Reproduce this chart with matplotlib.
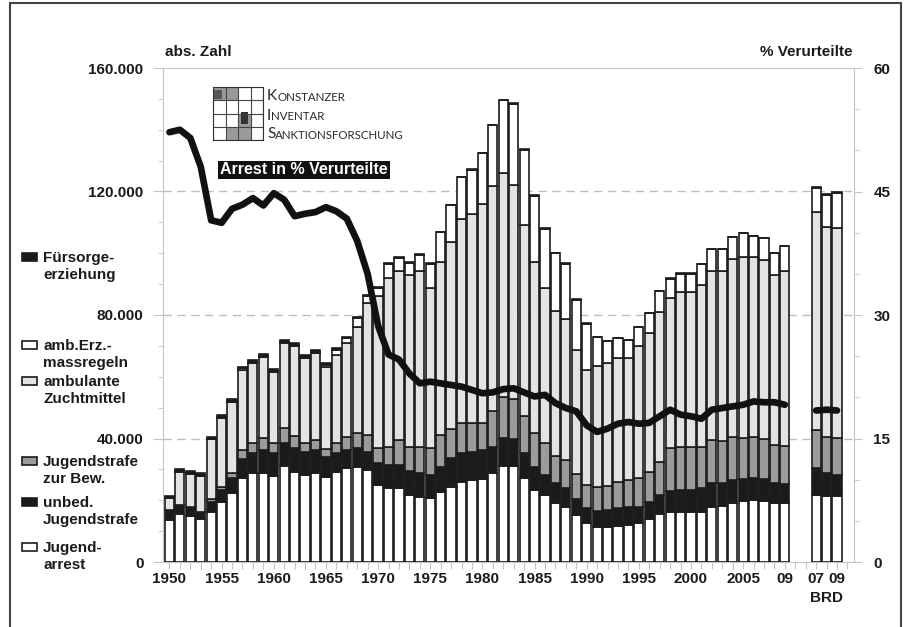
import numpy as np
import matplotlib.pyplot as plt
from matplotlib.patches import Rectangle
from matplotlib.ticker import FixedLocator, FuncFormatter

plt.rcParams['font.family'] = ['Liberation Sans', 'DejaVu Sans']
plt.rcParams['font.weight'] = 'bold'
plt.rcParams['font.size'] = 11

W, H = 906, 627

# --- data (in 1000 persons), 1950-2009 old Länder, 2007-2009 BRD ---
years = np.arange(1950, 2010)
arrest = [13.6, 15.6, 14.9, 13.8, 16.3, 19.5, 22.5, 27.1, 28.7, 28.9,
          27.9, 31.1, 29.3, 28.2, 28.7, 27.6, 29.3, 30.3, 30.7, 29.8,
          24.9, 23.9, 23.9, 21.7, 21.2, 20.6, 22.8, 24.4, 26.0, 26.4,
          26.8, 28.7, 31.1, 31.1, 27.1, 23.3, 21.7, 19.0, 17.7, 15.2,
          12.5, 11.4, 11.4, 11.7, 12.0, 12.5, 13.8, 15.6, 16.3, 16.3,
          16.3, 16.3, 17.9, 18.1, 19.2, 19.9, 20.1, 19.9, 19.0, 19.0]
unbed = [3.2, 2.9, 3.0, 2.5, 3.2, 3.8, 4.6, 6.2, 6.5, 7.4,
         7.3, 7.3, 7.5, 7.5, 7.6, 6.5, 5.9, 6.0, 6.1, 5.9,
         7.1, 7.5, 7.5, 7.9, 7.7, 7.6, 8.1, 9.2, 9.2, 9.3,
         9.5, 8.7, 9.0, 8.6, 8.3, 7.6, 6.5, 6.5, 6.2, 5.1,
         4.9, 5.2, 5.4, 5.7, 5.7, 5.4, 5.7, 6.1, 6.7, 7.0,
         7.0, 7.6, 7.6, 7.4, 7.2, 6.9, 7.0, 6.9, 6.5, 6.3]
bew = [0.0, 0.0, 0.0, 0.0, 0.9, 1.1, 1.6, 3.0, 3.5, 3.8,
       3.5, 4.9, 4.0, 2.7, 3.2, 2.4, 3.5, 4.3, 4.9, 5.4,
       4.8, 6.0, 8.1, 7.8, 8.5, 8.6, 10.2, 9.4, 9.7, 9.2,
       8.6, 11.6, 13.5, 13.0, 11.9, 10.8, 10.2, 8.8, 9.1, 8.2,
       7.5, 7.8, 7.8, 8.6, 8.7, 9.2, 9.8, 10.8, 13.8, 13.9,
       14.1, 13.5, 14.0, 13.8, 14.0, 13.3, 13.5, 12.9, 12.4, 12.3]
zucht = [3.8, 10.6, 10.7, 11.7, 19.3, 22.3, 23.2, 25.9, 25.7, 26.2,
         22.8, 27.5, 29.0, 27.6, 28.1, 26.8, 28.4, 30.2, 34.5, 42.7,
         49.2, 54.5, 54.9, 55.6, 56.7, 51.9, 56.2, 60.8, 66.1, 67.9,
         71.1, 72.8, 72.3, 69.4, 61.9, 55.6, 50.3, 47.1, 45.6, 40.2,
         37.3, 39.1, 39.8, 40.2, 39.6, 42.9, 45.0, 48.6, 48.6, 50.4,
         50.2, 52.3, 54.6, 55.1, 57.7, 58.8, 58.3, 58.1, 55.1, 56.8]
erz = [0.3, 0.3, 0.3, 0.3, 0.3, 0.3, 0.3, 0.5, 0.4, 0.5,
       0.3, 0.5, 0.4, 0.5, 0.5, 0.5, 1.5, 1.7, 2.8, 2.3,
       2.8, 4.6, 4.1, 4.0, 5.3, 7.8, 9.5, 11.7, 13.6, 14.2,
       16.4, 19.6, 23.6, 26.3, 24.3, 21.4, 19.2, 18.6, 18.0, 16.2,
       15.0, 9.4, 7.2, 6.2, 5.8, 6.1, 6.4, 6.7, 6.4, 5.8,
       5.8, 6.8, 7.2, 6.9, 7.2, 7.7, 6.6, 7.0, 7.1, 7.9]
fuer = [0.6] * 17 + [0.5, 0.5, 0.4, 0.4, 0.3, 0.3, 0.3, 0.3, 0.3] \
       + [0.2] * 14 + [0.1] * 20

brd_years = [2007, 2008, 2009]
arrest_brd = [21.7, 21.4, 21.4]
unbed_brd = [8.6, 7.3, 6.8]
bew_brd = [12.3, 11.9, 11.9]
zucht_brd = [70.9, 67.8, 68.0]
erz_brd = [7.7, 10.6, 11.5]
fuer_brd = [0.1, 0.1, 0.1]

# Arrest in % Verurteilte (right axis)
pct = [52.2, 52.5, 51.5, 48.0, 41.5, 41.2, 42.9, 43.4, 44.2, 43.3,
       44.8, 44.0, 42.0, 42.3, 42.5, 43.1, 42.6, 41.7, 39.0, 35.0,
       28.7, 25.2, 24.6, 22.9, 21.7, 21.9, 21.7, 21.5, 21.3, 20.9,
       20.5, 20.6, 21.0, 21.1, 20.6, 20.1, 20.3, 19.3, 18.7, 18.3,
       16.6, 15.8, 16.2, 16.8, 17.0, 16.8, 16.9, 17.7, 18.5, 17.9,
       17.7, 17.4, 18.5, 18.7, 18.9, 19.1, 19.5, 19.4, 19.4, 19.1]
pct_brd = [18.4, 18.5, 18.4]

legend_labels = ['Fürsorge-\nerziehung', 'amb.Erz.-\nmassregeln',
                 'ambulante\nZuchtmittel', 'Jugendstrafe\nzur Bew.',
                 'unbed.\nJugendstrafe', 'Jugend-\narrest']

BLACK = '#1b1b1b'
colors = ['white', BLACK, '#9b9b9b', '#e3e3e3', 'white', BLACK]
AXC = '#c4c4c4'


def fx(x):
    return x / W


def fy(y):
    return 1 - y / H


fig = plt.figure(figsize=(W / 100, H / 100), dpi=100)
ax = fig.add_axes([fx(163), fy(562), (854 - 163) / W, (562 - 68) / H])

brd_pos = years[-1] + 3 + np.arange(len(brd_years))
layers = [arrest, unbed, bew, zucht, erz, fuer]
layers_brd = [arrest_brd, unbed_brd, bew_brd, zucht_brd, erz_brd, fuer_brd]

bottom = np.zeros(len(years))
bottom_b = np.zeros(len(brd_years))
for vals, vals_b, c in zip(layers, layers_brd, colors):
    ax.bar(years, vals, bottom=bottom, width=0.88, color=c,
           edgecolor=BLACK, linewidth=1.2, zorder=3)
    ax.bar(brd_pos, vals_b, bottom=bottom_b, width=0.88, color=c,
           edgecolor=BLACK, linewidth=1.2, zorder=3)
    bottom += np.array(vals)
    bottom_b += np.array(vals_b)

ax.set_xlim(1949.38, 2015.63)
ax.set_ylim(0, 160)
for yv in [40, 80, 120]:
    ax.axhline(yv, color='#bdbdbd', lw=1, dashes=(6, 4), zorder=1)

for s in ['left', 'bottom', 'top']:
    ax.spines[s].set_color(AXC)
ax.spines['right'].set_visible(False)

ax.yaxis.set_major_locator(FixedLocator([0, 40, 80, 120, 160]))
ax.yaxis.set_minor_locator(FixedLocator(np.arange(0, 161, 10)))
ax.yaxis.set_major_formatter(
    FuncFormatter(lambda v, p: '0' if v == 0 else f'{int(v)}.000'))
ax.tick_params(axis='y', which='major', length=7, color=AXC, pad=7,
               labelcolor=BLACK, labelsize=11)
ax.tick_params(axis='y', which='minor', length=3.5, color=AXC)

xt = list(range(1950, 2016))
xlabels = []
for t in xt:
    if t <= 2005 and t % 5 == 0:
        xlabels.append(str(t))
    elif t == 2009:
        xlabels.append('09')
    elif t == brd_pos[0]:
        xlabels.append('07')
    elif t == brd_pos[-1]:
        xlabels.append('09')
    else:
        xlabels.append('')
ax.set_xticks(xt)
ax.set_xticklabels(xlabels)
ax.tick_params(axis='x', length=5, color=AXC, pad=2, labelcolor=BLACK,
               labelsize=11)
ax.text(brd_pos[1], -0.073, 'BRD', transform=ax.get_xaxis_transform(),
        ha='center', va='center', fontsize=11, color=BLACK)

ax2 = ax.twinx()
ax2.set_ylim(0, 60)
for s in ['left', 'bottom', 'top']:
    ax2.spines[s].set_visible(False)
ax2.spines['right'].set_color(AXC)
ax2.yaxis.set_major_locator(FixedLocator([0, 15, 30, 45, 60]))
ax2.yaxis.set_minor_locator(FixedLocator(np.arange(0, 61, 5)))
ax2.tick_params(axis='y', which='major', length=6, color=AXC, pad=8,
                labelcolor=BLACK, labelsize=11)
ax2.tick_params(axis='y', which='minor', length=3.5, color=AXC)

ax2.plot(years, pct, color='#111111', lw=4.8, solid_capstyle='round',
         solid_joinstyle='round', zorder=5)
ax2.plot(brd_pos, pct_brd, color='#111111', lw=4.8, solid_capstyle='round',
         solid_joinstyle='round', zorder=5)

# axis titles
fig.text(fx(165), fy(52), 'abs. Zahl', ha='left', va='center', color=BLACK)
fig.text(fx(852), fy(52), '% Verurteilte', ha='right', va='center', color=BLACK)

# title box
fig.text(fx(304), fy(170), 'Arrest in % Verurteilte', ha='center',
         va='center', color='white', fontsize=11.5,
         bbox=dict(facecolor='#111111', edgecolor='none',
                   boxstyle='square,pad=0.12'))

# logo
lax = fig.add_axes([fx(213), fy(140), 50 / W, 53 / H])
lax.set_xlim(0, 4)
lax.set_ylim(0, 4)
for (cx, cy) in [(0, 3), (1, 3), (2, 1), (1, 0), (2, 0)]:
    lax.add_patch(Rectangle((cx, cy), 1, 1, color='#9a9a9a', lw=0))
lax.add_patch(Rectangle((2.2, 1.2), 0.6, 0.9, color='#333333', lw=0))
lax.add_patch(Rectangle((0.1, 3.1), 0.6, 0.7, color='#555555', lw=0))
for k in range(5):
    lax.axhline(k, color='#444444', lw=0.8)
    lax.axvline(k, color='#444444', lw=0.8)
lax.set_xticks([])
lax.set_yticks([])
for s in lax.spines.values():
    s.set_color('#333333')

for word, yb in [('KONSTANZER', 100), ('INVENTAR', 119.5),
                 ('SANKTIONSFORSCHUNG', 138)]:
    t1 = fig.text(fx(267), fy(yb), word[0], family=['Lato', 'DejaVu Sans'],
                  fontsize=11, weight='normal', color='#2a2a2a',
                  va='baseline')
    ax.annotate(word[1:], xy=(1, 0), xycoords=t1, va='bottom', ha='left',
                family=['Lato', 'DejaVu Sans'], fontsize=8.3,
                weight='normal', color='#2a2a2a', annotation_clip=False)

# legend on the left
leg_colors = [BLACK, 'white', '#e3e3e3', '#9b9b9b', BLACK, 'white']
leg_y = [257, 345, 381, 461, 502, 547]
for lab, c, y in zip(legend_labels, leg_colors, leg_y):
    fig.patches.append(Rectangle((fx(22), fy(y + 4)), 15 / W, 8 / H,
                                 transform=fig.transFigure, facecolor=c,
                                 edgecolor=BLACK, lw=1.2))
    fig.text(fx(43), fy(y + 9.7), lab, ha='left', va='center',
             linespacing=1.32, color=BLACK)

# outer frame
fig.patches.append(Rectangle((fx(10), -0.01), (901 - 10) / W, fy(3) + 0.01,
                             transform=fig.transFigure, fill=False,
                             edgecolor='#444444', lw=1.5))

fig.savefig('out.png', dpi=100)
